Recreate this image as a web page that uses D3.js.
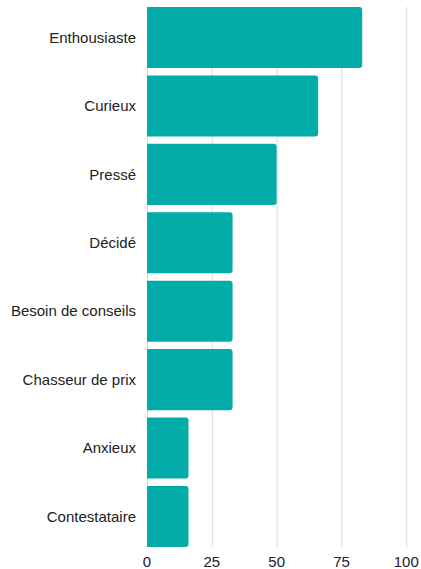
<!DOCTYPE html>
<html>
<meta charset="utf-8">
<script src="https://d3js.org/d3.v7.min.js"></script>
<style>
    body { margin: 0; background: #fff; }
    text { font-family: "Liberation Sans", Arial, sans-serif; fill: #222; }
</style>
<body></body>
<script>
    const categories = ["Enthousiaste", "Curieux", "Pressé", "Décidé", "Besoin de conseils", "Chasseur de prix", "Anxieux", "Contestataire"];
    const values = [83, 66, 50, 33, 33, 33, 16, 16];
    const ticks = [0, 25, 50, 75, 100];

    const width = 421, height = 569;
    const svg = d3.select("body").append("svg").attr("width", width).attr("height", height);

    const x = d3.scaleLinear().domain([0, 100]).range([147, 406.3]);
    const y = d3.scaleBand().domain(categories).range([7, 547]).paddingInner(0.108).paddingOuter(0);

    // gridlines
    svg.append("g").selectAll("line")
        .data(ticks)
        .join("line")
        .attr("x1", d => x(d) + 0.5)
        .attr("x2", d => x(d) + 0.5)
        .attr("y1", 7)
        .attr("y2", 547)
        .attr("stroke", "#dcdcdc")
        .attr("stroke-width", 1);

    const r = 3;
    function barPath(d, i) {
        const x0 = x(0), x1 = x(d), y0 = y(categories[i]), h = y.bandwidth();
        return `M${x0},${y0}H${x1 - r}Q${x1},${y0} ${x1},${y0 + r}V${y0 + h - r}Q${x1},${y0 + h} ${x1 - r},${y0 + h}H${x0}Z`;
    }
    svg.append("g").selectAll("path")
        .data(values)
        .join("path")
        .attr("d", barPath)
        .attr("fill", "#02ada9");

    // category labels
    svg.append("g").selectAll("text")
        .data(categories)
        .join("text")
        .attr("x", 136)
        .attr("y", d => y(d) + y.bandwidth() / 2)
        .attr("dy", "0.35em")
        .attr("text-anchor", "end")
        .attr("font-size", 15)
        .text(d => d);

    // x tick labels
    svg.append("g").selectAll("text")
        .data(ticks)
        .join("text")
        .attr("x", d => x(d))
        .attr("y", 567)
        .attr("text-anchor", "middle")
        .attr("font-size", 15)
        .text(d => d);
</script>
</html>
